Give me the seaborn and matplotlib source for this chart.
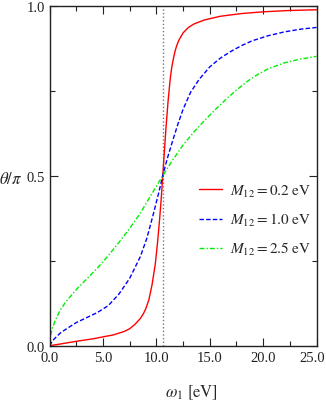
import numpy as np
import pandas as pd
import matplotlib
matplotlib.use("Agg")
import matplotlib.pyplot as plt
import matplotlib.transforms as mtransforms
import seaborn as sns

# ---- data ----
omega_red = [0, 1, 2.5, 4, 5, 6, 7, 7.5, 8, 8.5, 8.8, 9, 9.3, 9.6, 9.9, 10.1, 10.3, 10.45,
             10.6, 10.75, 10.9, 11.1, 11.3, 11.45, 11.6, 11.75, 11.9, 12.1, 12.5, 13.0,
             13.5, 14.5, 16, 18, 20, 22.5, 25]
theta_red = [0, 0.005, 0.013, 0.02, 0.026, 0.032, 0.042, 0.05, 0.063, 0.08, 0.095, 0.108,
             0.135, 0.18, 0.24, 0.30, 0.37, 0.43, 0.5, 0.57, 0.64, 0.72, 0.785, 0.82,
             0.845, 0.866, 0.882, 0.898, 0.92, 0.936, 0.946, 0.958, 0.969, 0.977, 0.982,
             0.986, 0.988]

omega_blue = [0, 0.25, 0.5, 1, 1.5, 2.5, 3.5, 4.5, 5.5, 6.5, 7.5, 8.5, 9.1, 9.7, 10.2,
              10.6, 11.0, 11.5, 12.0, 12.5, 13.2, 14.0, 15.0, 16.0, 17.0, 18.0, 19.0,
              20.5, 22.0, 23.5, 25]
theta_blue = [0, 0.013, 0.022, 0.037, 0.048, 0.068, 0.083, 0.098, 0.118, 0.152, 0.198,
              0.262, 0.315, 0.385, 0.447, 0.5, 0.548, 0.60, 0.65, 0.695, 0.745, 0.783,
              0.82, 0.846, 0.866, 0.883, 0.897, 0.912, 0.923, 0.931, 0.936]

omega_green = [0, 0.1, 0.25, 0.5, 1, 1.5, 2.5, 3.5, 4.5, 5.5, 6.5, 7.5, 8.5, 9.5, 10.6,
               11.5, 12.5, 13.5, 14.5, 15.5, 16.5, 17.5, 18.5, 19.5, 20.5, 22, 23.5, 25]
theta_green = [0, 0.03, 0.05, 0.072, 0.105, 0.128, 0.165, 0.197, 0.229, 0.265, 0.304,
               0.345, 0.39, 0.443, 0.5, 0.545, 0.59, 0.628, 0.662, 0.694, 0.724, 0.752,
               0.777, 0.798, 0.815, 0.832, 0.843, 0.851]

labels = [r"$M_{12} = 0.2\;\mathrm{eV}$", r"$M_{12} = 1.0\;\mathrm{eV}$",
          r"$M_{12} = 2.5\;\mathrm{eV}$"]
omega_0 = 10.6
xticks = [0, 5, 10, 15, 20, 25]
xticklabels = ["0.0", "5.0", "10.0", "15.0", "20.0", "25.0"]
yticks = [0, 0.5, 1.0]
yticklabels = ["0.0", "0.5", "1.0"]

sns.set_style("ticks")
plt.rcParams["font.family"] = ["Liberation Serif", "DejaVu Serif"]
plt.rcParams["mathtext.fontset"] = "stix"

fig = plt.figure(figsize=(3.26, 4.06), dpi=100)
ax = fig.add_axes([0.152, 0.146, 0.819, 0.8375])

df_r = pd.DataFrame({"x": omega_red, "y": theta_red})
df_b = pd.DataFrame({"x": omega_blue, "y": theta_blue})
df_g = pd.DataFrame({"x": omega_green, "y": theta_green})

ax.axvline(omega_0, color="#777777", ls=(0, (1, 1.6)), lw=1.0, zorder=1)
sns.lineplot(data=df_r, x="x", y="y", ax=ax, color="#ff0000", lw=1.0,
             label=labels[0], sort=False)
sns.lineplot(data=df_b, x="x", y="y", ax=ax, color="#0000ff", lw=1.0,
             label=labels[1], sort=False)
ax.lines[-1].set_linestyle((0, (3.2, 1.6)))
sns.lineplot(data=df_g, x="x", y="y", ax=ax, color="#00ee00", lw=1.0,
             label=labels[2], sort=False)
ax.lines[-1].set_linestyle((0, (3.5, 1.5, 1, 1.5)))

ax.set_xlim(0, 25)
ax.set_ylim(0, 1)
ax.set_xticks(xticks)
ax.set_xticklabels(xticklabels)
ax.set_yticks(yticks)
ax.set_yticklabels(yticklabels)
ax.set_xticks([2.5, 7.5, 12.5, 17.5, 22.5], minor=True)
ax.set_yticks([0.25, 0.75], minor=True)
ax.tick_params(which="both", direction="in", top=True, right=True, colors="#222222",
               labelsize=10.5, width=0.8)
ax.tick_params(which="major", length=6)
ax.tick_params(which="minor", length=3.5)
for s in ax.spines.values():
    s.set_linewidth(1.0)
    s.set_color("#222222")
    s.set_visible(True)

# keep the last x tick label inside the figure
last = ax.get_xticklabels()[-1]
last.set_horizontalalignment("right")
last.set_transform(last.get_transform() +
                   mtransforms.ScaledTranslation(8 / 100, 0, fig.dpi_scale_trans))

ax.set_xlabel(r"$\omega_1\ [\mathrm{eV}]$", fontsize=12, va="center")
ax.xaxis.set_label_coords(0.533, -0.135)
ax.set_ylabel(r"$\theta/\pi$", fontsize=12, rotation=0, va="center", ha="center")
ax.yaxis.set_label_coords(-0.144, 0.49)

leg = ax.legend(loc="center left", bbox_to_anchor=(0.56, 0.37), frameon=False,
                fontsize=11, handlelength=1.5, handletextpad=0.5, labelspacing=0.8,
                borderpad=0, borderaxespad=0)

fig.savefig("out.png", dpi=100)
